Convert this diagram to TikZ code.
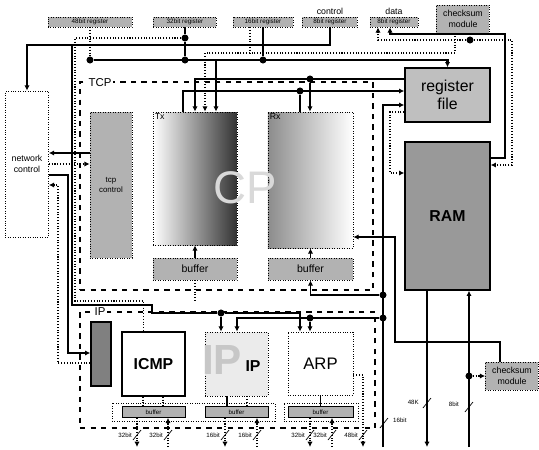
\documentclass[tikz,border=0pt]{standalone}
\usepackage{fontspec}
\setmainfont{Liberation Sans}
\usetikzlibrary{positioning,calc}
\usetikzlibrary{arrows.meta}
\tikzset{regbox/.style={draw,densely dotted,fill=black!30,inner sep=0pt,align=center,font=\fontsize{3.6}{4}\selectfont},
grey/.style={draw,densely dotted,fill=black!30,inner sep=0pt,align=center},
frm/.style={draw,dashed,line width=0.7pt,inner sep=0pt},
tag/.style={font=\fontsize{5}{6}\selectfont,inner sep=1pt,align=center},
lbl/.style={font=\fontsize{3.5}{4}\selectfont,inner sep=0.5pt},
big/.style={font=\bfseries\fontsize{9}{10}\selectfont},
wire/.style={line width=0.6pt},
dwire/.style={line width=0.6pt,densely dotted},
bus/.style={line width=1.6pt},
jn/.style={circle,fill=black,inner sep=0pt,minimum size=4pt},
arr/.style={-{Latex[length=3pt,width=3pt]}},
sz/.style 2 args={minimum width=#1*0.02cm,minimum height=#2*0.02cm}}
\begin{document}
\begin{tikzpicture}[x=0.02cm,y=-0.02cm]
\useasboundingbox (0,0) rectangle (539,450);
% frames
\node[frm,sz={293}{208}] (tcp) at (226.5,186) {};
\node[frm,sz={295}{116}] (ipb) at (227.5,370) {};
\node[draw,densely dotted,sz={163}{18}] (fr1) at (193.5,412) {};
\node[draw,densely dotted,sz={74}{18}] (fr2) at (321,412) {};
\node[tag,fill=white,font=\fontsize{6.5}{7}\selectfont] (ltcp) at (100,83) {TCP};
\node[tag,fill=white,font=\fontsize{6.5}{7}\selectfont] (lip) at (100,312) {IP};
% registers on top
\node[regbox,sz={84}{10}] (r48) at (90,22) {48bit register};
\node[regbox,sz={63}{10}] (r32) at (185,22) {32bit register};
\node[regbox,sz={60}{10}] (r16) at (263,22) {16bit register};
\node[regbox,sz={55}{10}] (rctl) at (330,22) {8bit register};
\node[regbox,sz={48}{10}] (rdat) at (394,22) {8bit register};
\node[tag,above=0pt of rctl] (lctl) {control};
\node[tag,above=0pt of rdat] (ldat) {data};
\node[regbox,sz={53}{28},font=\fontsize{5}{6}\selectfont] (cs1) at (463,19) {checksum\\module};
% TCP part
\node[draw,densely dotted,fill=white,tag,sz={43}{146}] (netc) at (27,164) {network\\control};
\node[grey,sz={42}{146},font=\fontsize{4.5}{5.5}\selectfont] (tcpc) at (111,185) {tcp\\control};
\node[draw,densely dotted,left color=white,middle color=black!35,right color=black!80,sz={84}{133}] (tx) at (195,178.5) {};
\node[tag,anchor=north west] (ltx) at (tx.north west) {Tx};
\node[draw,densely dotted,left color=black!45,middle color=black!25,right color=white,sz={85}{136}] (rx) at (310.5,180) {};
\node[tag,anchor=north west] (lrx) at (rx.north west) {Rx};
\node[text=black!15,font=\fontsize{26}{26}\selectfont] (wcp) at (245,188) {CP};
\node[grey,sz={84}{22},font=\fontsize{6}{7}\selectfont] (txb) at (195,269) {buffer};
\node[grey,sz={85}{22},font=\fontsize{6}{7}\selectfont] (rxb) at (310.5,269) {buffer};
\node[draw,line width=0.8pt,fill=black!25,align=center,sz={85}{54},font=\fontsize{9}{10}\selectfont] (regf) at (447.5,95) {register\\file};
\node[draw,line width=0.8pt,fill=black!40,sz={85}{148},big] (ram) at (447.5,216) {RAM};
% IP part
\node[draw,line width=0.8pt,fill=black!50,sz={20}{64}] (ipc) at (101,354) {};
\node[draw,line width=0.8pt,fill=white,sz={63}{64},big] (icmp) at (153.5,364) {ICMP};
\node[draw,densely dotted,fill=black!8,sz={63}{64}] (ip) at (236.5,364) {};
\node[text=black!22,font=\bfseries\fontsize{24}{24}\selectfont] (wip) at (222,360) {IP};
\node[big] (lipt) at (253,366) {IP};
\node[draw,densely dotted,fill=white,sz={65}{63},font=\fontsize{9.5}{10}\selectfont] (arp) at (320.5,363.5) {ARP};
\node[draw,fill=black!30,sz={63}{11},lbl] (ib1) at (153.5,412) {buffer};
\node[draw,fill=black!30,sz={63}{11},lbl] (ib2) at (236.5,412) {buffer};
\node[draw,fill=black!30,sz={65}{11},lbl] (ib3) at (320.5,412) {buffer};
\node[regbox,sz={53}{28},font=\fontsize{5}{6}\selectfont] (cs2) at (512,376) {checksum\\module};
% top bus
\node[jn] (j48) at (90,60) {};
\node[jn] (j32) at (185,60) {};
\node[jn] (j16) at (263,60) {};
\node[jn] (j32b) at (185,38) {};
\coordinate (ctx) at (216,60);
\draw[bus,arr] (j48) -- (j48 -| regf) -- (regf);
\draw[dwire] (r48) -- (j48);
\draw[wire] (r32) -- (j32b) -- (j32);
\draw[wire] (r16.south -| j16) -- (j16);
\draw[wire,arr] (ctx) -- (tx.north -| ctx);
\draw[dwire] (r16.south -| 250,0) -- (250,53);
\draw[dwire,arr] (cs1.south -| 455,0) |- (205,53) -- (tx.north -| 205,0);
% control and left side
\draw[wire,arr] (rctl) |- (27,45) -- (netc);
\coordinate (c72) at (72,45);
\node[jn] (jip) at (221,313) {};
\draw[wire] (c72) |- (152,305) |- (jip);
\draw[wire,arr] (jip) -- (300,313) -- (arp.north -| 300,0);
\draw[wire,arr] (jip) -- (ip.north -| jip);
\draw[dwire] (j32b) -| (75,301) -| ([xshift=-0.2cm]icmp.north);
\draw[dwire] (txb) -- (txb |- 75,301);
\draw[wire,arr] (tcpc.west |- 0,153) -- (netc.east |- 0,153);
\draw[dwire,arr] (netc.east |- 0,164) -- (tcpc.west |- 0,164);
\draw[wire,arr] (netc.east |- 0,175) -| (68,353) -- (ipc.west |- 0,353);
\draw[dwire,arr] (ipc.west |- 0,363) -| (58,185) -- (netc.east |- 0,185);
% Tx, Rx and register file
\draw[wire,arr] (regf.west |- 0,79) -| (tx.north -| 195,0);
\draw[wire,arr] (tx.north -| 183,0) |- (regf.west |- 0,91);
\node[jn] (jrx) at (300,91) {};
\node[jn] (jrx2) at (310,79) {};
\draw[wire] (jrx) -- (rx.north -| jrx);
\draw[wire,arr] (jrx2) -- (rx.north -| jrx2);
\draw[wire,arr] (txb) -- (tx);
\draw[wire,arr] (rxb) -- (rx);
% input bus on the right of TCP
\coordinate (cin) at (383,447);
\node[jn] (jb1) at (383,295) {};
\node[jn] (jb2) at (383,318) {};
\node[jn] (ja) at (310,318) {};
\draw[wire,arr] (cin) -- (383,105) -- (regf.west |- 0,105);
\draw[wire,arr] (jb1) -| (rxb);
\draw[wire,arr] (jb2) -| (ip.north -| 237,0);
\draw[wire,arr] (ja) -- (arp.north -| ja);
% RAM side
\draw[dwire,arr] (regf.west |- 0,112) -| (390,173) -- (ram.west |- 0,173);
\draw[wire,arr] (ram.east |- 0,158) -| (505,34) -| (rdat.south -| 390,0);
\node[jn] (jcs) at (470,40) {};
\draw[dwire] (cs1.south -| jcs) -- (jcs);
\draw[dwire,arr] (jcs) -| (512,165) -- (ram.east |- 0,165);
\draw[dwire,arr] (jcs) -| (rdat.south -| 378,0);
\draw[wire,arr] (cs2.north -| 500,0) |- (395,342) |- (rx.east |- 0,237);
\coordinate (cram) at (427,447);
\coordinate (cramin) at (469,447);
\node[jn] (jr) at (469,376) {};
\draw[wire,arr] (ram.south -| cram) -- (cram);
\draw[wire,arr] (cramin) -- (ram.south -| cramin);
\draw[dwire,arr] (jr) -- (cs2);
% IP blocks and buffers
\draw[dwire,arr] (arp.east |- 0,375) -| (363,447);
\draw[dwire] (icmp.south -| 143,0) -- (ib1.north -| 143,0);
\draw[dwire] (icmp.south -| 163,0) -- (ib1.north -| 163,0);
\draw[wire] (ip.south -| 227,0) -- (ib2.north -| 227,0);
\draw[dwire] (ip.south -| 247,0) -- (ib2.north -| 247,0);
\draw[wire] (arp) -- (ib3);
\foreach \b/\x in {ib1/137,ib2/225,ib3/310} {\draw[dwire,arr] (\b.south -| \x,0) -- (\x,447);}
\foreach \b/\x in {ib1/168,ib2/257,ib3/332} {\draw[dwire,arr] (\x,447) -- (\b.south -| \x,0);}
\foreach \x/\t in {137/32bit,168/32bit,225/16bit,257/16bit,310/32bit,332/32bit,363/48bit} {
\draw (\x-4,440) -- (\x+4,430);
\node[lbl,anchor=east] at (\x-4,435) {\t};}
\draw (380,428) -- (388,418);
\node[lbl,anchor=west] (l16) at (392,420) {16bit};
\draw (423,408) -- (431,398);
\node[lbl,anchor=east] (l48k) at (420,402) {48K};
\draw (465,412) -- (473,402);
\node[lbl,anchor=east] (l8) at (460,404) {8bit};
\end{tikzpicture}
\end{document}
